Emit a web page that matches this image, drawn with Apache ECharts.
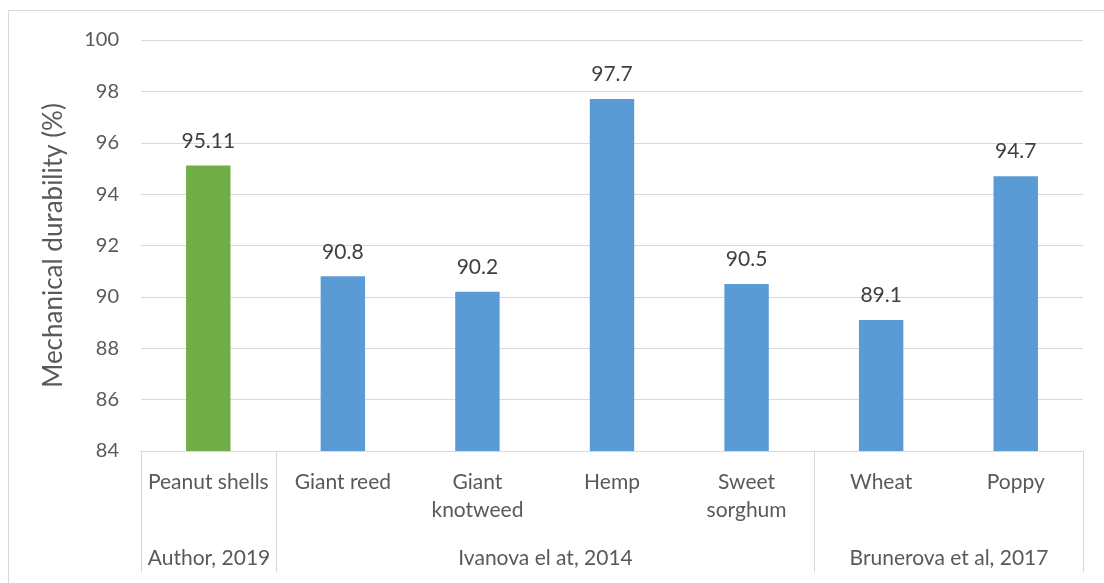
<!DOCTYPE html>
<html>
<head>
<meta charset="utf-8">
<script src="https://cdn.jsdelivr.net/npm/echarts@6/dist/echarts.min.js"></script>
<style>
  html, body { margin: 0; padding: 0; background: #ffffff; }
  #chart { width: 1104px; height: 583px; }
</style>
</head>
<body>
<div id="chart"></div>
<script>
// Pellet materials and their mechanical durability (%)
const categories = ['Peanut shells', 'Giant reed', 'Giant\nknotweed', 'Hemp', 'Sweet\nsorghum', 'Wheat', 'Poppy'];
const durability = [95.11, 90.8, 90.2, 97.7, 90.5, 89.1, 94.7];
// Source groups: label and the number of categories each covers
const groupLabels = ['Author, 2019', 'Ivanova el at, 2014', 'Brunerova et al, 2017'];
const groupSizes = [1, 4, 2];
const yTicks = [84, 86, 88, 90, 92, 94, 96, 98, 100];

const FONT = 'Lato, "Open Sans", sans-serif';
const TEXT = '#595959';
const LINE = '#d9d9d9';
const GREEN = '#70AD47';
const BLUE = '#5B9BD5';

const chart = echarts.init(document.getElementById('chart'), null, { renderer: 'canvas' });

const option = {
  animation: false,
  backgroundColor: '#ffffff',
  grid: { left: 141, right: 21, top: 40, bottom: 132, containLabel: false },
  xAxis: {
    type: 'category',
    data: categories,
    axisLine: { show: true, lineStyle: { color: LINE, width: 1 } },
    axisTick: { show: false },
    axisLabel: {
      color: TEXT, fontFamily: FONT, fontSize: 21, lineHeight: 28,
      margin: 17, interval: 0, verticalAlign: 'top'
    },
    splitLine: { show: false }
  },
  yAxis: {
    type: 'value',
    min: yTicks[0],
    max: yTicks[yTicks.length - 1],
    interval: 2,
    name: 'Mechanical durability (%)',
    nameLocation: 'middle',
    nameGap: 74,
    nameRotate: 90,
    nameTextStyle: { color: TEXT, fontFamily: FONT, fontSize: 26 },
    axisLine: { show: false },
    axisTick: { show: false },
    axisLabel: { color: TEXT, fontFamily: FONT, fontSize: 20, margin: 22 },
    splitLine: { show: true, lineStyle: { color: LINE, width: 1 } }
  },
  series: [{
    type: 'bar',
    data: durability.map((v, i) => ({
      value: v,
      itemStyle: { color: i === 0 ? GREEN : BLUE }
    })),
    barWidth: '33%',
    label: {
      show: true,
      position: 'top',
      distance: 14,
      color: '#404040',
      fontFamily: FONT,
      fontSize: 21,
      formatter: p => String(durability[p.dataIndex])
    }
  }]
};

chart.setOption(option);

// Group separators and group labels under the category axis
function drawGroups() {
  const p0 = chart.convertToPixel({ xAxisIndex: 0 }, 0);
  const p1 = chart.convertToPixel({ xAxisIndex: 0 }, 1);
  const band = p1 - p0;
  const yBase = chart.convertToPixel({ yAxisIndex: 0 }, yTicks[0]);
  const lineBottom = yBase + 121;
  const labelY = yBase + 107;
  const elements = [];

  // outer chart frame
  elements.push({
    type: 'rect', silent: true,
    shape: { x: 8.5, y: 10.5, width: 1200, height: 700 },
    style: { fill: null, stroke: LINE, lineWidth: 1 },
    z: -10
  });

  let start = 0;
  const edge = i => Math.round(p0 + (i - 0.5) * band) + 0.5;
  for (let g = 0; g < groupSizes.length; g++) {
    const end = start + groupSizes[g];
    const xl = edge(start);
    const xr = edge(end);
    elements.push({
      type: 'line', silent: true,
      shape: { x1: xl, y1: yBase, x2: xl, y2: lineBottom },
      style: { stroke: LINE, lineWidth: 1 }
    });
    if (g === groupSizes.length - 1) {
      elements.push({
        type: 'line', silent: true,
        shape: { x1: xr, y1: yBase, x2: xr, y2: lineBottom },
        style: { stroke: LINE, lineWidth: 1 }
      });
    }
    elements.push({
      type: 'text', silent: true,
      x: (xl + xr) / 2, y: labelY,
      style: {
        text: groupLabels[g], fill: TEXT, font: '21px ' + FONT,
        align: 'center', verticalAlign: 'middle'
      }
    });
    start = end;
  }
  chart.setOption({ graphic: { elements } });
}
drawGroups();
</script>
</body>
</html>
